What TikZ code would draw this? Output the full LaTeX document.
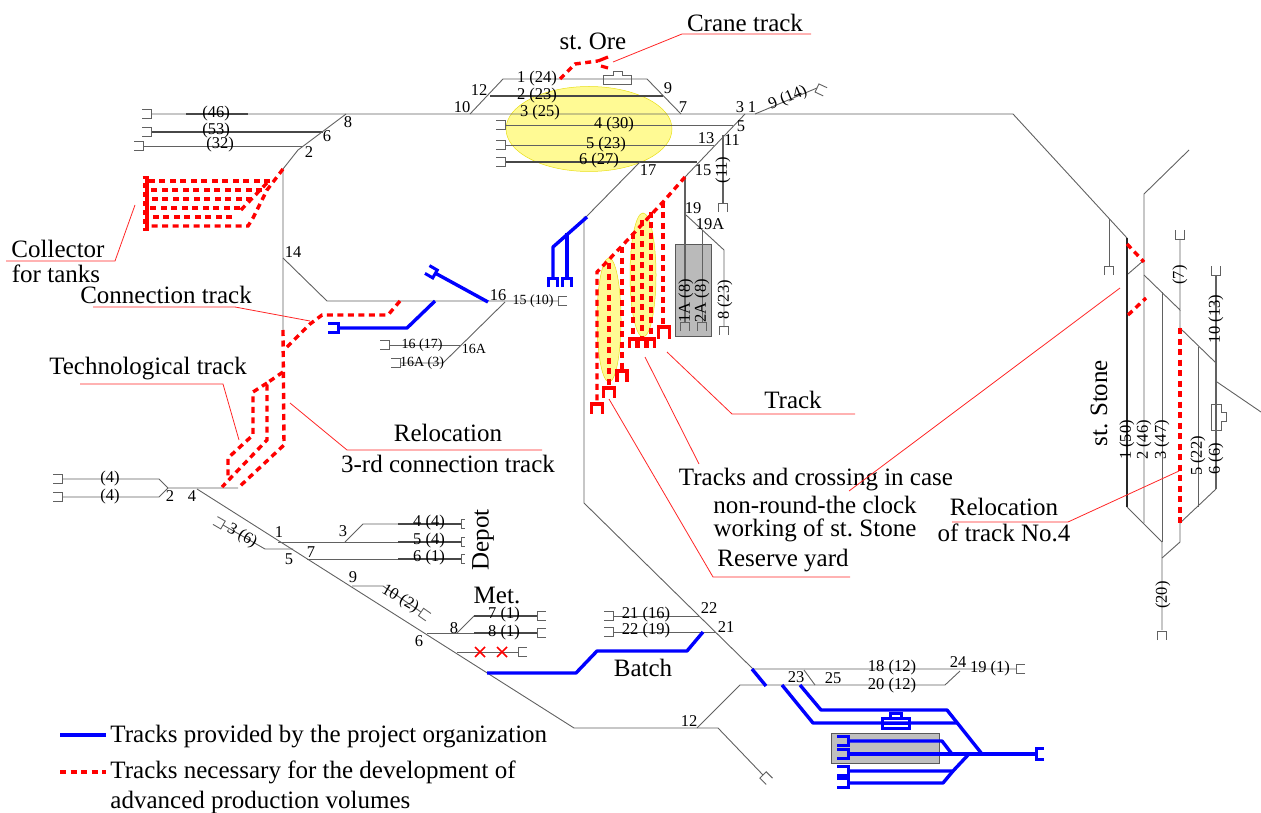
\documentclass[tikz,border=0pt]{standalone}
\usepackage{fontspec}
\setmainfont{Liberation Serif}

\tikzset{
    stopper/.pic={\draw (-9,-4.5) -- (0,-4.5) -- (0,4.5) -- (-9,4.5);},
    thintrack/.style={draw=black!62, line width=0.9pt},
    darktrack/.style={draw=black!72, line width=1.4pt},
    bluetrack/.style={draw=blue, line width=3.4pt, line join=round},
    redtrack/.style={draw=red, line width=3.4pt, dash pattern=on 6pt off 4.5pt},
    rstop/.style={draw=red, line width=3.2pt},
    bstop/.style={draw=blue, line width=3pt},
    leader/.style={draw=red!85!white, line width=0.8pt},
    yard/.style={fill=yellow!42, draw=yellow!90!black, line width=0.5pt},
    num/.style={font=\fontsize{16.5}{18}\selectfont, inner sep=0pt},
    tiny num/.style={font=\fontsize{14}{15}\selectfont, inner sep=0pt},
    caption/.style={font=\fontsize{25}{27}\selectfont, inner sep=0pt},
}

\begin{document}
\frenchspacing
\begin{tikzpicture}[x=1pt, y=-1pt, thintrack]
    \useasboundingbox (0,0) rectangle (1261,813);

    % Yards and buildings
    \path[yard] (589,129) ellipse (83 and 42.5);
    \path[yard] (609,320) ellipse (12 and 62);
    \path[yard] (643,275) ellipse (13 and 62);
    \filldraw[fill=black!27, draw=black!65] (675,244) rectangle (711,336);
    \filldraw[fill=black!25, draw=black!65] (831,733) rectangle (939,763);
    \draw (603,84) -- (603,75) -- (613,75) -- (613,71) -- (622,71) -- (622,75) -- (631,75) -- (631,84) -- cycle;
    \draw (1211,404) -- (1221,404) -- (1221,412) -- (1226,412) -- (1226,421) -- (1221,421) -- (1221,430) -- (1211,430) -- cycle;

    % Main line and st. Ore
    \draw (151,114) -- (1013,114) -- (1127,238);
    \draw (470,114) -- (503,79) -- (647,79) -- (681,114);
    \draw[darktrack] (186,114) -- (248,114);
    \draw[darktrack] (490,96) -- (663,96);
    \draw (505,125) -- (733,125);
    \draw (505,145) -- (714,145);
    \draw[darktrack] (505,162) -- (697,162);
    \draw (745,114) -- (685,177);
    \draw (640,162) -- (586,217);
    \draw (755,114) -- (817,88);
    \draw[line width=1.4pt] (723,135) -- (723,203);
    \draw[line width=1.2pt] (685,177) -- (685,322);
    \draw (686,215) -- (724,250) -- (724,327);
    \draw (702,230) -- (702,322);
    \pic at (505,125) {stopper};
    \pic at (505,145) {stopper};
    \pic at (505,162) {stopper};
    \pic[rotate=90] at (723,203) {stopper};
    \pic[rotate=90] at (685,322) {stopper};
    \pic[rotate=90] at (702,322) {stopper};
    \pic[rotate=90] at (724,326) {stopper};
    \pic[rotate=155] at (817,88) {stopper};

    % West yard
    \draw[darktrack] (151,132) -- (323,132);
    \draw (143,146) -- (303,146);
    \draw (346,114) -- (298,150) -- (283,169) -- (283,330);
    \draw (283,258) -- (327,301) -- (558,301);
    \draw (505,302) -- (443,363) -- (400,363);
    \draw (389,345) -- (461,345);
    \pic at (151,114) {stopper};
    \pic at (151,132) {stopper};
    \pic at (143,146) {stopper};
    \pic[rotate=180] at (558,301) {stopper};
    \pic at (389,345) {stopper};
    \pic at (400,363) {stopper};

    % South-west lines and depot
    \draw (62,479) -- (159,479) -- (168,488) -- (238,488);
    \draw (62,497) -- (159,497) -- (168,488);
    \draw (197,489) -- (574,728) -- (718,728) -- (763,775);
    \draw (223,525) -- (265,549) -- (293,549);
    \draw (278,542) -- (398,542);
    \draw (345,542) -- (363,524) -- (398,524);
    \draw (307,559) -- (398,559);
    \draw[darktrack] (398,524) -- (461,524);
    \draw[darktrack] (398,542) -- (461,542);
    \draw[darktrack] (398,559) -- (461,559);
    \draw (352,586) -- (383,586) -- (421,612);
    \draw (427,633) -- (474,633);
    \draw (457,633) -- (474,616);
    \draw[darktrack] (474,616) -- (537,616);
    \draw[darktrack] (474,633) -- (537,633);
    \draw (457,652) -- (518,652);
    \pic at (62,479) {stopper};
    \pic at (62,497) {stopper};
    \pic[rotate=-30] at (223,525) {stopper};
    \pic[rotate=180,xscale=.4] at (461,524) {stopper};
    \pic[rotate=180,xscale=.4] at (461,542) {stopper};
    \pic[rotate=180,xscale=.4] at (461,559) {stopper};
    \pic[rotate=145] at (421,612) {stopper};
    \pic[rotate=180] at (537,616) {stopper};
    \pic[rotate=180] at (537,633) {stopper};
    \pic[rotate=180] at (518,652) {stopper};
    \pic[rotate=135] at (763,775) {stopper};

    % Long line to the east yard
    \draw (586,217) -- (584,217) -- (584,503) -- (753,669) -- (1016,669);
    \draw (613,616) -- (700,616);
    \draw (613,632) -- (716,632);
    \draw (697,728) -- (740,685) -- (945,685) -- (960,671);
    \draw (804,670) -- (815,685);
    \pic at (613,616) {stopper};
    \pic at (613,632) {stopper};
    \pic[rotate=180] at (1016,669) {stopper};

    % st. Stone
    \draw[line width=2pt, draw=black!85] (1127,238) -- (1127,507);
    \draw (1127,507) -- (1162,542) -- (1162,630);
    \draw (1189,150) -- (1144,194) -- (1144,523);
    \draw (1162,558) -- (1180,542) -- (1180,523);
    \draw (1144,275) -- (1180,310) -- (1180,239);
    \draw (1180,310) -- (1180,328) -- (1216,363);
    \draw (1162,292) -- (1162,542);
    \draw (1198,347) -- (1198,507);
    \draw (1216,489) -- (1180,523);
    \draw[line width=1.4pt] (1216,275) -- (1216,489);
    \draw (1217,382) -- (1261,412);
    \draw (1128,274) -- (1143,261);
    \draw (1109,219) -- (1109,266);
    \pic[rotate=90] at (1109,266) {stopper};
    \pic[rotate=-90] at (1180,239) {stopper};
    \pic[rotate=-90] at (1216,275) {stopper};
    \pic[rotate=90] at (1162,631) {stopper};

    % Blue tracks
    \draw[bluetrack] (488,302) -- (435,273);
    \pic[bstop,rotate=-30] at (435,274) {stopper};
    \draw[bluetrack] (435,301) -- (407,328) -- (338,328);
    \pic[bstop,xscale=1.1,yscale=1.1] at (338,328) {stopper};
    \draw[bluetrack] (587,217) -- (553,247) -- (553,278);
    \draw[bluetrack] (567,233) -- (567,278);
    \pic[bstop,rotate=90] at (553,278) {stopper};
    \pic[bstop,rotate=90] at (567,278) {stopper};
    \draw[bluetrack] (487,673) -- (576,673) -- (597,651) -- (687,651) -- (703,632);
    \draw[bluetrack] (752,669) -- (766,686);
    \draw[bluetrack] (782,685) -- (813,723) -- (957,723);
    \draw[bluetrack] (800,685) -- (821,710) -- (947,710) -- (982,754);
    \draw[bluetrack] (848,754) -- (1035,754);
    \draw[bluetrack] (848,741) -- (942,741) -- (952,754);
    \draw[bluetrack] (848,771) -- (953,771) -- (968,755);
    \draw[bluetrack] (848,783) -- (943,783) -- (953,771);
    \draw[bstop] (882,718) rectangle (909,728);
    \draw[bstop] (890,718) -- (890,713) -- (901,713) -- (901,718);
    \draw[bstop] (882,723) -- (909,723);
    \pic[bstop,rotate=180,xscale=.9,yscale=1.2] at (1036,754) {stopper};
    \pic[bstop,xscale=1.2] at (848,741) {stopper};
    \pic[bstop,xscale=1.2] at (848,754) {stopper};
    \pic[bstop,xscale=1.2] at (848,771) {stopper};
    \pic[bstop,xscale=1.2] at (848,783) {stopper};

    % Red tracks
    \draw[redtrack] (283,169) -- (267,190) -- (253,218) -- (248,226) -- (147,226);
    \draw[redtrack] (270,181) -- (147,181);
    \draw[redtrack] (262,190) -- (147,190);
    \draw[redtrack] (267,183) -- (238,213);
    \draw[redtrack] (252,199) -- (147,199);
    \draw[redtrack] (240,208) -- (147,208);
    \draw[redtrack] (232,217) -- (147,217);
    \pic[rstop,xscale=.5,yscale=.8] at (147,181) {stopper};
    \pic[rstop,xscale=.5,yscale=.8] at (147,190) {stopper};
    \pic[rstop,xscale=.5,yscale=.8] at (147,199) {stopper};
    \pic[rstop,xscale=.5,yscale=.8] at (147,208) {stopper};
    \pic[rstop,xscale=.5,yscale=.8] at (147,217) {stopper};
    \pic[rstop,xscale=.5,yscale=.8] at (147,226) {stopper};
    \draw[redtrack] (400,301) -- (388,315) -- (322,315) -- (310,324) -- (284,350);
    \draw[redtrack] (283,330) -- (284,445) -- (238,488);
    \draw[redtrack] (283,372) -- (267,383) -- (267,440) -- (222,487);
    \draw[redtrack] (267,383) -- (253,392) -- (253,435) -- (228,458) -- (228,477);
    \draw[redtrack] (560,79) -- (575,64) -- (598,61);
    \draw[rstop] (598,61) -- (608,57);
    \draw[rstop] (601,66) -- (608,68);
    \draw[redtrack] (685,177) -- (663,202) -- (620,248) -- (597,272) -- (597,404);
    \draw[redtrack] (663,202) -- (663,326);
    \draw[redtrack] (651,212) -- (651,339);
    \draw[redtrack] (642,220) -- (642,339);
    \draw[redtrack] (633,233) -- (633,339);
    \draw[redtrack] (622,247) -- (622,371);
    \draw[redtrack] (609,263) -- (609,388);
    \pic[rstop,rotate=90,xscale=1.3,yscale=1.2] at (664,327) {stopper};
    \pic[rstop,rotate=90,yscale=.75] at (651,339) {stopper};
    \pic[rstop,rotate=90,yscale=.75] at (642,339) {stopper};
    \pic[rstop,rotate=90,yscale=.75] at (633,339) {stopper};
    \pic[rstop,rotate=90,xscale=1.2,yscale=1.1] at (622,371) {stopper};
    \pic[rstop,rotate=90,xscale=1.1,yscale=1.2] at (609,388) {stopper};
    \pic[rstop,rotate=90,xscale=1.1,yscale=1.2] at (597,404) {stopper};
    \draw[redtrack] (1180,328) -- (1180,523);
    \draw[redtrack] (1127,244) -- (1144,262);
    \draw[redtrack] (1128,315) -- (1146,298);
    \draw[draw=red, line width=1.5pt] (475,647) -- (485,657) (475,657) -- (485,647);
    \draw[draw=red, line width=1.5pt] (497,647) -- (507,657) (497,657) -- (507,647);

    % Labels st. Ore
    \node[num] (t124) at (537,79) {1 (24)};
    \node[num] (t223) at (537,96) {2 (23)};
    \node[num] (t325) at (540,113) {3 (25)};
    \node[num] (t430) at (614,125) {4 (30)};
    \node[num] (t523) at (606,145) {5 (23)};
    \node[num] (t627) at (599,161) {6 (27)};
    \node[num] (w12) at (479,90) {12};
    \node[num] (w10) at (462,107) {10};
    \node[num] (w9) at (668,88) {9};
    \node[num] (w7) at (683,107) {7};
    \node[num] (w3) at (740,107) {3};
    \node[num] (w1) at (752,107) {1};
    \node[num] (w5) at (741,126) {5};
    \node[num] (w13) at (706,138) {13};
    \node[num] (w11) at (732,140) {11};
    \node[num] (w15) at (703,170) {15};
    \node[num] (w17) at (648,170) {17};
    \node[num] (w19) at (693,208) {19};
    \node[num] (w19a) at (710,224) {19A};
    \node[num, rotate=23] (t914) at (788,98) {9 (14)};
    \node[num, rotate=90] (t11) at (723,170) {(11)};
    \node[num, rotate=90] (t1a) at (686,301) {1A (8)};
    \node[num, rotate=90] (t2a) at (702,301) {2A (8)};
    \node[num, rotate=90] (t823) at (725,300) {8 (23)};

    % Labels west
    \node[num] (t46) at (216,114) {(46)};
    \node[num] (t53) at (216,131) {(53)};
    \node[num] (t32) at (220,145) {(32)};
    \node[num] (w8w) at (348,122) {8};
    \node[num] (w6w) at (327,136) {6};
    \node[num] (w2w) at (309,152) {2};
    \node[num] (w14) at (293,252) {14};
    \node[num] (w16) at (498,295) {16};
    \node[tiny num] (t1510) at (533,301) {15 (10)};
    \node[tiny num] (t1617) at (422,345) {16 (17)};
    \node[tiny num] (t16a3) at (422,363) {16A (3)};
    \node[tiny num] (w16a) at (474,349) {16A};

    % Labels south-west
    \node[num] (t4a) at (110,479) {(4)};
    \node[num] (t4b) at (110,497) {(4)};
    \node[num] (w2s) at (170,496) {2};
    \node[num] (w4s) at (192,496) {4};
    \node[num, rotate=-30] (t36) at (242,536) {3 (6)};
    \node[num] (w1s) at (279,532) {1};
    \node[num] (w3s) at (343,531) {3};
    \node[num] (w5s) at (289,559) {5};
    \node[num] (w7s) at (311,552) {7};
    \node[num] (w9s) at (353,577) {9};
    \node[num] (t44) at (429,523) {4 (4)};
    \node[num] (t54) at (429,541) {5 (4)};
    \node[num] (t61) at (429,558) {6 (1)};
    \node[num, rotate=-30] (t102) at (400,599) {10 (2)};
    \node[num] (w6s) at (419,641) {6};
    \node[num] (w8s) at (454,628) {8};
    \node[num] (t71) at (504,615) {7 (1)};
    \node[num] (t81) at (504,633) {8 (1)};
    \node[num] (t2116) at (646,615) {21 (16)};
    \node[num] (t2219) at (646,631) {22 (19)};
    \node[num] (w22) at (709,608) {22};
    \node[num] (w21) at (726,627) {21};
    \node[num] (w12s) at (689,721) {12};
    \node[num] (w23) at (796,677) {23};
    \node[num] (w25) at (833,678) {25};
    \node[num] (t1812) at (892,668) {18 (12)};
    \node[num] (t2012) at (892,686) {20 (12)};
    \node[num] (w24) at (958,662) {24};
    \node[num] (t191) at (990,669) {19 (1)};

    % Labels st. Stone
    \node[num, rotate=90] (s150) at (1127,440) {1 (50)};
    \node[num, rotate=90] (s246) at (1144,440) {2 (46)};
    \node[num, rotate=90] (s347) at (1162,440) {3 (47)};
    \node[num, rotate=90] (s522) at (1198,456) {5 (22)};
    \node[num, rotate=90] (s66) at (1216,459) {6 (6)};
    \node[num, rotate=90] (s1013) at (1216,319) {10 (13)};
    \node[num, rotate=90] (s7) at (1180,275) {(7)};
    \node[num, rotate=90] (s20) at (1163,595) {(20)};

    % Captions
    \node[caption] (crane) at (745,23) {Crane track};
    \node[caption] (ore) at (593,41) {st. Ore};
    \node[caption] (collector) at (58,249) {Collector};
    \node[caption] (tanks) at (56,274) {for tanks};
    \node[caption] (connection) at (166,295) {Connection track};
    \node[caption] (techno) at (148,369) {Technological track};
    \node[caption] (relocation) at (448,433) {Relocation};
    \node[caption] (third) at (448,464) {3-rd connection track};
    \node[caption] (track) at (793,400) {Track};
    \node[caption] (crossing) at (816,480) {Tracks and crossing in case};
    \node[caption] (round) at (815,505) {non-round-the clock};
    \node[caption] (working) at (815,530) {working of st. Stone};
    \node[caption] (reloc4) at (1004,507) {Relocation};
    \node[caption] (track4) at (1004,533) {of track No.4};
    \node[caption] (reserve) at (783,561) {Reserve yard};
    \node[caption, rotate=90] (depot) at (483,540) {Depot};
    \node[caption] (met) at (497,595) {Met.};
    \node[caption] (batch) at (643,668) {Batch};
    \node[caption, rotate=90] (stone) at (1099,403) {st. Stone};

    % Leaders
    \coordinate (craneend) at (613,62);
    \coordinate (collectorend) at (135,205);
    \coordinate (connectionend) at (310,321);
    \coordinate (technoend) at (239,440);
    \coordinate (thirdend) at (290,403);
    \coordinate (trackend) at (667,352);
    \coordinate (crossingend) at (645,357);
    \coordinate (stoneend) at (1120,288);
    \coordinate (reloc4end) at (1179,471);
    \coordinate (reserveend) at (609,399);
    \draw[leader] (craneend) -- (682,34) -- (811,34);
    \draw[leader] (collectorend) -- (115,261) -- (6,261);
    \draw[leader] (connectionend) -- (235,307) -- (93,307);
    \draw[leader] (technoend) -- (223,384) -- (80,384);
    \draw[leader] (thirdend) -- (347,450) -- (542,450);
    \draw[leader] (trackend) -- (732,414) -- (855,414);
    \draw[leader] (crossingend) -- (699,464);
    \draw[leader] (stoneend) -- (849,491);
    \draw[leader] (reloc4end) -- (1068,522) -- (952,522);
    \draw[leader] (reserveend) -- (713,577) -- (850,577);

    % Legend
    \coordinate (blueleft) at (60,735);
    \coordinate (blueright) at (106,735);
    \coordinate (redleft) at (60,772);
    \coordinate (redright) at (106,772);
    \draw[bluetrack] (blueleft) -- (blueright);
    \draw[redtrack] (redleft) -- (redright);
    \node[caption, anchor=west] (legblue) at (110,737) {Tracks provided by the project organization};
    \node[caption, anchor=west] (legred) at (110,772) {Tracks necessary for the development of};
    \node[caption, anchor=west] (legvol) at (110,802) {advanced production volumes};
\end{tikzpicture}
\end{document}
